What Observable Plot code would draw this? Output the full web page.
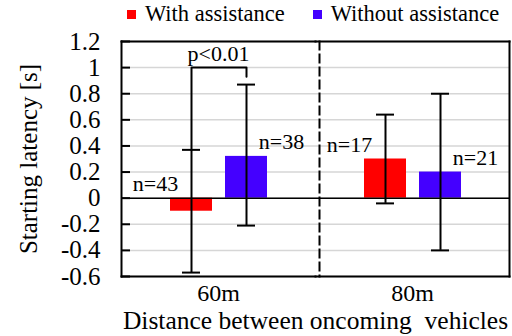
<!DOCTYPE html>
<html>
<head>
<meta charset="utf-8">
<script src="https://cdn.jsdelivr.net/npm/d3@7"></script>
<script src="https://cdn.jsdelivr.net/npm/@observablehq/plot@0.6"></script>
<style>
  html, body { margin: 0; padding: 0; background: white; }
  body { width: 512px; height: 336px; overflow: hidden; font-family: "Liberation Serif", "Times New Roman", Times, "DejaVu Serif", serif; }
  #legend { height: 28px; display: flex; align-items: center; font-size: 22.5px; color: #000; padding-left: 127px; box-sizing: border-box; }
  #legend .item { display: flex; align-items: center; }
  #legend .sw { width: 9px; height: 9px; margin-right: 9px; }
</style>
</head>
<body>
<div id="legend"></div>
<div id="chart"></div>
<script>
// ---- data ----
const distances = ["60m", "80m"];
const series = ["With assistance", "Without assistance"];
const colors = ["#ff0000", "#4400ff"];
const means   = { "60m": [-0.10, 0.32], "80m": [0.30, 0.20] };
const errLow  = { "60m": [-0.57, -0.21], "80m": [-0.04, -0.40] };
const errHigh = { "60m": [0.37, 0.87], "80m": [0.64, 0.80] };
const counts  = { "60m": [43, 38], "80m": [17, 21] };
const yTicks = [-0.6, -0.4, -0.2, 0, 0.2, 0.4, 0.6, 0.8, 1, 1.2];
const sigLabel = "p<0.01";
const sigLevel = 1.0;
const sigLegs = [0.37, 0.93]; // bottom ends of bracket legs
const xTitle = "Distance between oncoming  vehicles";
const yTitle = "Starting latency [s]";

const FONT = '"Liberation Serif", "Times New Roman", Times, "DejaVu Serif", serif';

// ---- build table ----
const rows = [];
for (const d of distances) {
  series.forEach((s, i) => {
    rows.push({ dist: d, series: s, value: means[d][i], lo: errLow[d][i], hi: errHigh[d][i], n: counts[d][i] });
  });
}
const bracket = [
  { dist: "60m", series: series[0], y: sigLegs[0] },
  { dist: "60m", series: series[0], y: sigLevel },
  { dist: "60m", series: series[1], y: sigLevel },
  { dist: "60m", series: series[1], y: sigLegs[1] }
];

// ---- legend ----
const legend = document.getElementById("legend");
series.forEach((s, i) => {
  const item = document.createElement("div");
  item.className = "item";
  item.style.marginRight = i === 0 ? "28px" : "0";
  const sw = document.createElement("div");
  sw.className = "sw";
  sw.style.background = colors[i];
  const t = document.createElement("span");
  t.textContent = s;
  item.append(sw, t);
  legend.append(item);
});

// ---- chart ----
const nLabel = (s, dx) => Plot.text(rows.filter(r => r.series === s), {
  fx: "dist", x: "series", y: d => Math.max(d.value, 0),
  text: d => "n=" + d.n, dy: -14, dx, fontSize: 22
});

const chart = Plot.plot({
  width: 512,
  height: 308,
  marginTop: 13,
  marginBottom: 60,
  marginLeft: 121,
  marginRight: 2.5,
  style: { fontFamily: FONT, fontSize: "22px", background: "white", color: "#000", overflow: "visible" },
  fx: { domain: distances, padding: 0, label: null },
  x: { domain: series, paddingInner: 0.24, paddingOuter: 0.86, axis: null },
  y: { domain: [-0.6, 1.2], ticks: yTicks },
  color: { domain: series, range: colors },
  marks: [
    Plot.gridY(yTicks, { stroke: "#d6d6d6", strokeOpacity: 1, strokeWidth: 1.5 }),
    Plot.barY(rows, { fx: "dist", x: "series", y: "value", fill: "series" }),
    Plot.ruleY([0], { stroke: "#000", strokeWidth: 1.5 }),
    Plot.ruleX(rows, { fx: "dist", x: "series", y1: "lo", y2: "hi", stroke: "#000", strokeWidth: 2 }),
    Plot.tickY(rows, { fx: "dist", x: "series", y: "lo", stroke: "#000", strokeWidth: 2, insetLeft: 12, insetRight: 12 }),
    Plot.tickY(rows, { fx: "dist", x: "series", y: "hi", stroke: "#000", strokeWidth: 2, insetLeft: 12, insetRight: 12 }),
    Plot.line(bracket, { fx: "dist", x: "series", y: "y", stroke: "#000", strokeWidth: 2 }),
    Plot.text([sigLabel], { fx: () => "60m", y: () => sigLevel, text: d => d, dy: -14, fontSize: 22 }),
    nLabel(series[0], -36),
    nLabel(series[1], 35),
    Plot.frame({ anchor: "top", strokeWidth: 2 }),
    Plot.frame({ anchor: "bottom", strokeWidth: 2 }),
    Plot.frame({ anchor: "left", fx: "60m", strokeWidth: 2 }),
    Plot.frame({ anchor: "right", fx: "80m", strokeWidth: 2 }),
    Plot.frame({ anchor: "right", fx: "60m", strokeWidth: 2, strokeDasharray: "8,5", dx: 4 }),
    Plot.axisY({
      ticks: yTicks, tickSize: -9, tickPadding: 30, strokeWidth: 2,
      tickFormat: d => String(+d.toFixed(1)), fontSize: 25,
      label: yTitle, labelAnchor: "center", labelArrow: "none", labelOffset: 102
    }),
    Plot.axisFx({
      anchor: "bottom", tickSize: 0, tickPadding: 7, fontSize: 24,
      label: xTitle, labelAnchor: "center", labelArrow: "none", labelOffset: 52
    })
  ]
});
// title slightly smaller than facet labels' box allows
const t = chart.querySelector('[aria-label="fx-axis label"] text');
if (t) t.setAttribute("font-size", 25.5);
document.getElementById("chart").append(chart);
</script>
</body>
</html>
